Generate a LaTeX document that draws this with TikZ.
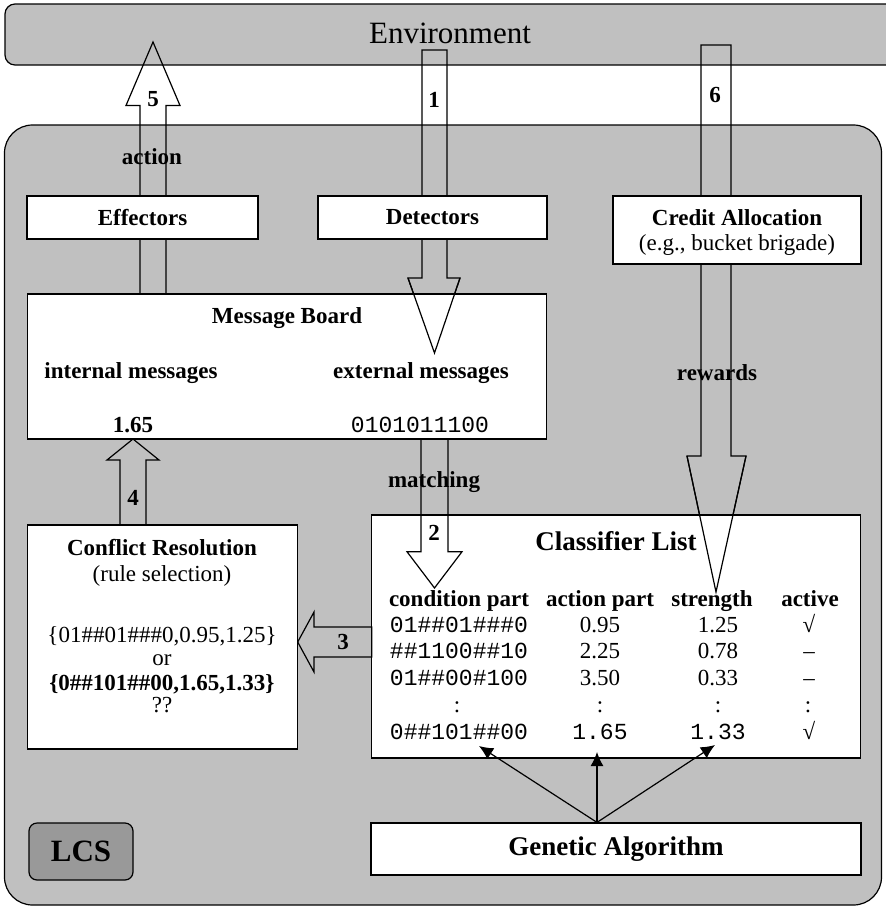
\documentclass[tikz,border=0pt]{standalone}
\usepackage{fontspec}
\setmainfont{Liberation Serif}
\setmonofont{Liberation Mono}
\usetikzlibrary{arrows.meta}
\definecolor{silv}{HTML}{C0C0C0}
\definecolor{lcsg}{HTML}{999999}
\newcommand\szN{\fontsize{23}{27}\selectfont}
\newcommand\szL{\fontsize{27}{31}\selectfont}
\newcommand\szE{\fontsize{31}{36}\selectfont}
\tikzset{
  wbox/.style={draw=black, line width=1.2pt, fill=white, inner sep=0pt, rectangle},
  gbox/.style={draw=black, line width=1.2pt, fill=silv, inner sep=0pt, rectangle},
  blk/.style={draw=black, line width=1.2pt, line join=miter},
  txt/.style={inner sep=0pt, anchor=base, font=\szN},
  btxt/.style={inner sep=0pt, anchor=base, font=\szN\bfseries},
  mtxt/.style={inner sep=0pt, anchor=base, font=\szN\ttfamily},
  gaarr/.style={draw=black, line width=1.2pt, -{Latex[length=14pt,width=13pt]}}
}
\begin{document}
\begin{tikzpicture}[x=1pt,y=-1pt]
\useasboundingbox (0,0) rectangle (886,906);
\clip (0,0) rectangle (886,906);
\fill[white] (0,0) rectangle (886,906);
% environment and system
\node[gbox, rounded corners=10pt, minimum width=900pt, minimum height=61pt] (env) at (455,34.5) {};
\node[gbox, rounded corners=28pt, minimum width=877pt, minimum height=780pt] (sys) at (443,515) {};
% block arrows behind boxes
\draw[blk] (140,294) -- (140,105.5) -- (126,105.5) -- (153,42) -- (180,105.5) -- (166,105.5) -- (166,294) -- cycle;
\draw[blk] (422,50) -- (447,50) -- (447,278) -- (460,278) -- (434.5,353) -- (408,278) -- (422,278) -- cycle;
\draw[blk] (701,45) -- (731,45) -- (731,456) -- (746,456) -- (716,592) -- (687,456) -- (701,456) -- cycle;
% boxes
\node[wbox, minimum width=231pt, minimum height=43pt, font=\szN\bfseries] (eff) at (142.5,217.5) {Effectors};
\node[wbox, minimum width=229pt, minimum height=43pt, font=\szN\bfseries] (det) at (432.5,217.5) {Detectors};
\node[wbox, minimum width=248pt, minimum height=68pt] (cred) at (737,230) {};
\node[wbox, minimum width=519pt, minimum height=145pt] (mb) at (287,366.5) {};
\draw[blk] (408,278) -- (434.5,353) -- (460,278);
\node[wbox, minimum width=270pt, minimum height=224pt] (cr) at (162.3,637) {};
\node[wbox, minimum width=489pt, minimum height=243pt] (cl) at (616.2,636.5) {};
\node[wbox, minimum width=490pt, minimum height=52pt, font=\szL\bfseries] (ga) at (616,849) {Genetic Algorithm};
\node[draw=black, line width=1.2pt, fill=lcsg, rounded corners=8pt, minimum width=104pt, minimum height=57pt, inner sep=0pt, font=\szE\bfseries] (lcs) at (81,851.5) {LCS};
\draw[blk] (687,456) -- (716,592) -- (746,456);
% arrows 2, 3, 4
\draw[blk] (421,439) -- (448,439) -- (448,551.7) -- (462,551.7) -- (434.5,588) -- (407,551.7) -- (421,551.7) -- cycle;
\draw[blk] (120,525) -- (120,460) -- (107,460) -- (133,439) -- (159,460) -- (146,460) -- (146,525) -- cycle;
\draw[blk] (371.7,627) -- (314,627) -- (314,612) -- (297.7,642) -- (314,672) -- (314,657) -- (371.7,657) -- cycle;
% texts
\node[txt, font=\szE] (envt) at (450,43) {Environment};
\node[btxt] (n5) at (153,106) {5};
\node[btxt] (n1) at (434,107) {1};
\node[btxt] (n6) at (715,102) {6};
\node[btxt] (act) at (152,164) {action};
\node[btxt] (credt) at (737,225) {Credit Allocation};
\node[txt] (creds) at (737,250) {(e.g., bucket brigade)};
\node[btxt] (mbt) at (287,323) {Message Board};
\node[btxt] (imsg) at (131,378) {internal messages};
\node[btxt] (emsg) at (421,378) {external messages};
\node[btxt] (ival) at (133,432) {1.65};
\node[mtxt] (eval) at (420,432) {0101011100};
\node[btxt] (rew) at (717,380) {rewards};
\node[btxt] (mat) at (434,487) {matching};
\node[btxt] (n4) at (133,505) {4};
\node[btxt] (n2) at (434,540) {2};
\node[btxt] (n3) at (343,649) {3};
\node[btxt] (crt) at (162,555) {Conflict Resolution};
\node[txt] (crs) at (162,581) {(rule selection)};
\node[txt] (cr1) at (162,642) {\{01\#\#01\#\#\#0,0.95,1.25\}};
\node[txt] (cr2) at (162,665) {or};
\node[btxt] (cr3) at (162,690) {\{0\#\#101\#\#00,1.65,1.33\}};
\node[txt] (cr4) at (162,712) {??};
\node[txt, font=\szL\bfseries] (clt) at (616,550) {Classifier List};
\node[btxt] (h1) at (459,606) {condition part};
\node[btxt] (h2) at (600,606) {action part};
\node[btxt] (h3) at (712,606) {strength};
\node[btxt] (h4) at (810,606) {active};
\node[mtxt] (r1a) at (459,632) {01\#\#01\#\#\#0};
\node[txt] (r1b) at (600,632) {0.95};
\node[txt] (r1c) at (718,632) {1.25};
\node[txt] (r1d) at (809,632) {√};
\node[mtxt] (r2a) at (459,658) {\#\#1100\#\#10};
\node[txt] (r2b) at (600,658) {2.25};
\node[txt] (r2c) at (718,658) {0.78};
\node[txt] (r2d) at (809,658) {–};
\node[mtxt] (r3a) at (459,685) {01\#\#00\#100};
\node[txt] (r3b) at (600,685) {3.50};
\node[txt] (r3c) at (718,685) {0.33};
\node[txt] (r3d) at (809,685) {–};
\node[txt] (r4a) at (457,712) {:};
\node[txt] (r4b) at (600,712) {:};
\node[txt] (r4c) at (718,712) {:};
\node[txt] (r4d) at (808,712) {:};
\node[mtxt] (r5a) at (459,739) {0\#\#101\#\#00};
\node[mtxt] (r5b) at (600,739) {1.65};
\node[mtxt] (r5c) at (718,739) {1.33};
\node[txt] (r5d) at (809,739) {√};
% GA arrows
\coordinate (t1) at (479,746);
\coordinate (t2) at (597,752);
\coordinate (t3) at (715,745);
\draw[gaarr] ([xshift=-19pt]ga.north) -- (t1);
\draw[gaarr] ([xshift=-19pt]ga.north) -- (t2);
\draw[gaarr] ([xshift=-19pt]ga.north) -- (t3);
\end{tikzpicture}
\end{document}
